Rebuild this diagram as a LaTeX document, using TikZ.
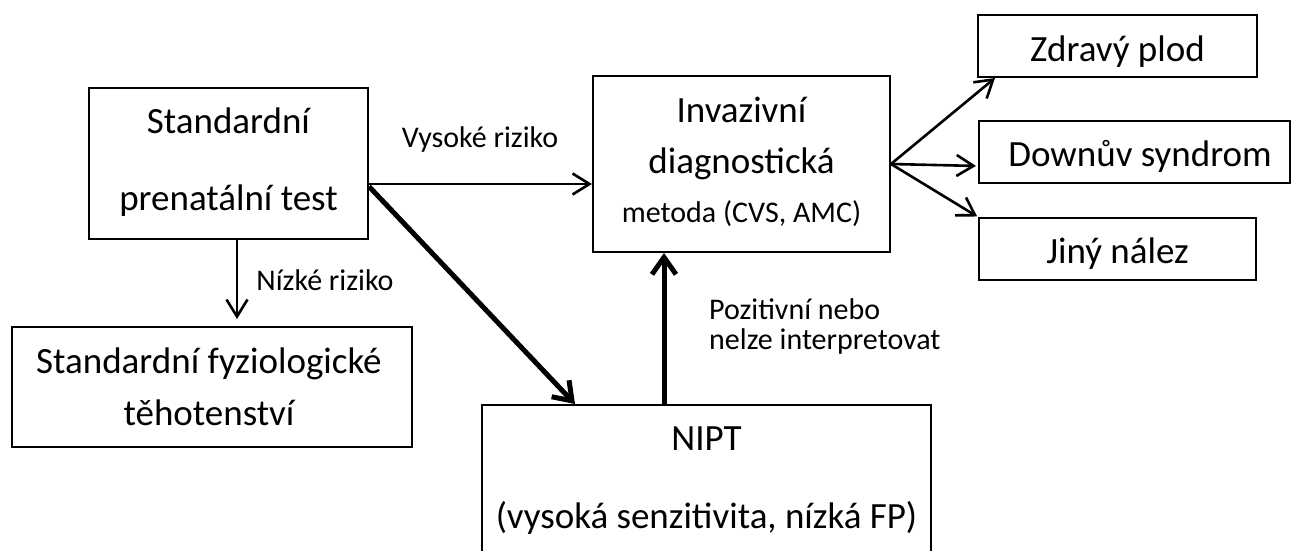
\documentclass[tikz,border=0pt]{standalone}
\usepackage{fontspec}
\setmainfont{Carlito}
\usetikzlibrary{arrows.meta}

\tikzset{
  box/.style={draw=black, line width=2pt, rectangle, inner sep=0pt},
  big/.style={font=\fontsize{37}{41}\selectfont, inner sep=0pt, anchor=base},
  small/.style={font=\fontsize{30}{33}\selectfont, inner sep=0pt, anchor=base},
  thinarrow/.style={line width=2.6pt, -{Straight Barb[length=17pt,width=21pt]}},
  thickarrow/.style={line width=5pt, -{Straight Barb[length=17pt,width=24pt]}},
}

\begin{document}
\begin{tikzpicture}[x=1pt, y=-1pt]
\useasboundingbox (0,0) rectangle (1291,551);

% boxes
\node[box, minimum width=279pt, minimum height=151pt] (std)  at (228.5,163.5) {};
\node[box, minimum width=400pt, minimum height=120pt] (fyz)  at (212,387) {};
\node[box, minimum width=297pt, minimum height=176pt] (inv)  at (741.5,164) {};
\node[box, minimum width=449pt, minimum height=152pt] (nipt) at (706.5,481) {};
\node[box, minimum width=279pt, minimum height=62pt]  (zdr)  at (1117.5,46) {};
\node[box, minimum width=311pt, minimum height=62pt]  (down) at (1134.5,152) {};
\node[box, minimum width=277pt, minimum height=62pt]  (jiny) at (1117.5,249) {};

% box texts
\node[big] (stdA) at (228.5,133) {Standardní};
\node[big] (stdB) at (228.5,210) {prenatální test};

\node[big] (fyzA) at (209,373) {Standardní fyziologické};
\node[big] (fyzB) at (209,425) {těhotenství};

\node[big]   (invA) at (741.5,122) {Invazivní};
\node[big]   (invB) at (741.5,173) {diagnostická};
\node[small] (invC) at (741.5,222) {metoda (CVS, AMC)};

\node[big] (niptA) at (706.5,450) {NIPT};
\node[big] (niptB) at (706.5,528) {(vysoká senzitivita, nízká FP)};

\node[big] (zdrA)  at (1117.5,62)  {Zdravý plod};
\node[big] (downA) at (1140,166)   {Downův syndrom};
\node[big] (jinyA) at (1117.5,263) {Jiný nález};

% connector labels
\node[small] (lblHigh) at (480,147) {Vysoké riziko};
\node[small] (lblLow)  at (325,290) {Nízké riziko};
\node[small, anchor=base west] (lblPosA) at (709,319) {Pozitivní nebo};
\node[small, anchor=base west] (lblPosB) at (709,349) {nelze interpretovat};

% connectors
\draw[thinarrow] ([yshift=-20.5pt]std.east) -- ([yshift=-20pt]inv.west);
\draw[thinarrow, shorten >=7pt] ([xshift=8.5pt]std.south) -- ([xshift=25pt]fyz.north);
\draw[thickarrow] ([yshift=-23pt]std.east) -- ([xshift=-131.5pt]nipt.north);
\draw[thickarrow] ([xshift=-42.5pt]nipt.north) -- ([xshift=-77.5pt]inv.south);

\draw[thinarrow] (inv.east) -- ([xshift=18pt]zdr.south west);
\draw[thinarrow, shorten >=2pt] (inv.east) -- ([yshift=-14pt]down.west);
\draw[thinarrow, shorten >=1pt] (inv.east) -- (jiny.north west);
\end{tikzpicture}
\end{document}
